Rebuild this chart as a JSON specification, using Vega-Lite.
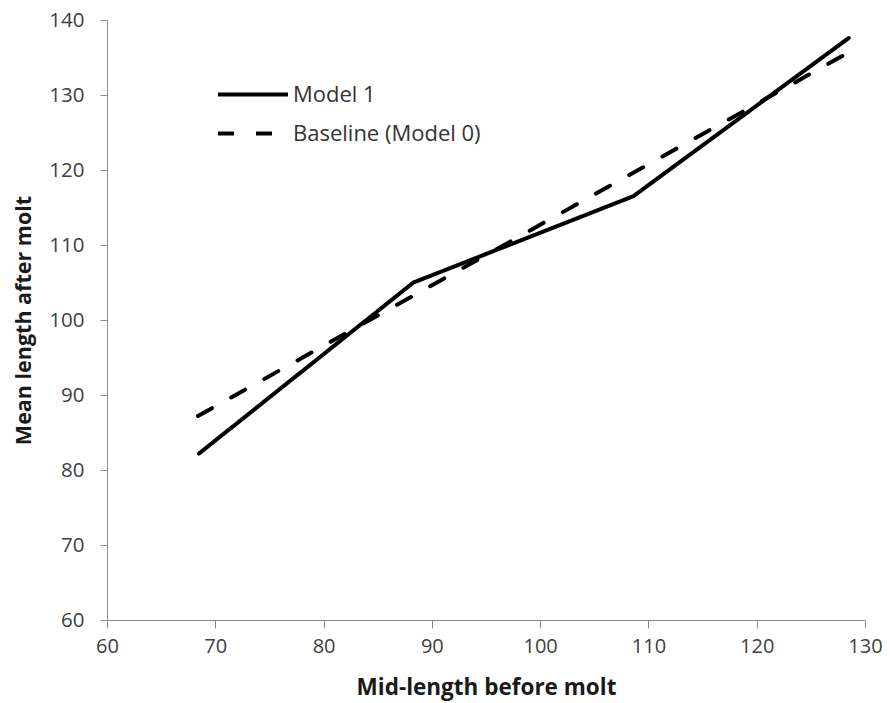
{
  "$schema": "https://vega.github.io/schema/vega-lite/v6.json",
  "width": 758,
  "height": 600,
  "autosize": "none",
  "padding": {"left": 107, "top": 20, "right": 25, "bottom": 83},
  "background": "white",
  "config": {"view": {"stroke": null}, "font": "Open Sans"},
  "data": {"values": [
    {"x": 68.5, "y": 82.2, "series": "Model 1"},
    {"x": 88.3, "y": 105.0, "series": "Model 1"},
    {"x": 108.6, "y": 116.5, "series": "Model 1"},
    {"x": 128.5, "y": 137.6, "series": "Model 1"},
    {"x": 68.4, "y": 87.2, "series": "Baseline (Model 0)"},
    {"x": 128.4, "y": 135.6, "series": "Baseline (Model 0)"}
  ]},
  "mark": {"type": "line", "strokeWidth": 4, "strokeCap": "round", "strokeJoin": "round", "color": "black"},
  "encoding": {
    "x": {
      "field": "x", "type": "quantitative",
      "scale": {"domain": [60, 130], "nice": false, "zero": false},
      "axis": {
        "title": "Mid-length before molt", "values": [60, 70, 80, 90, 100, 110, 120, 130],
        "grid": false, "domainColor": "#8c8c8c", "tickColor": "#8c8c8c", "tickSize": 8,
        "labelFontSize": 20, "labelColor": "#404040", "labelPadding": 8, "labelFlush": false,
        "titleFontSize": 22.5, "titleFontWeight": "bold", "titleColor": "#1a1a1a", "titlePadding": 20
      }
    },
    "y": {
      "field": "y", "type": "quantitative",
      "scale": {"domain": [60, 140], "nice": false, "zero": false},
      "axis": {
        "title": "Mean length after molt", "values": [60, 70, 80, 90, 100, 110, 120, 130, 140],
        "grid": false, "domainColor": "#8c8c8c", "tickColor": "#8c8c8c", "tickSize": 7,
        "labelFontSize": 20.5, "labelColor": "#404040", "labelPadding": 16, "labelFlush": false,
        "titleFontSize": 21.5, "titleFontWeight": "bold", "titleColor": "#1a1a1a", "titlePadding": 13
      }
    },
    "strokeDash": {
      "field": "series", "type": "nominal",
      "scale": {"domain": ["Model 1", "Baseline (Model 0)"], "range": [[1, 0], [16, 22]]},
      "legend": {
        "title": null, "orient": "none", "legendX": 109, "legendY": 55,
        "symbolType": "stroke", "symbolSize": 4900, "symbolStrokeWidth": 4,
        "symbolStrokeColor": "black", "labelFontSize": 22, "labelColor": "#333333",
        "labelOffset": 3, "labelLimit": 400, "rowPadding": 0, "clipHeight": 39
      }
    }
  }
}
